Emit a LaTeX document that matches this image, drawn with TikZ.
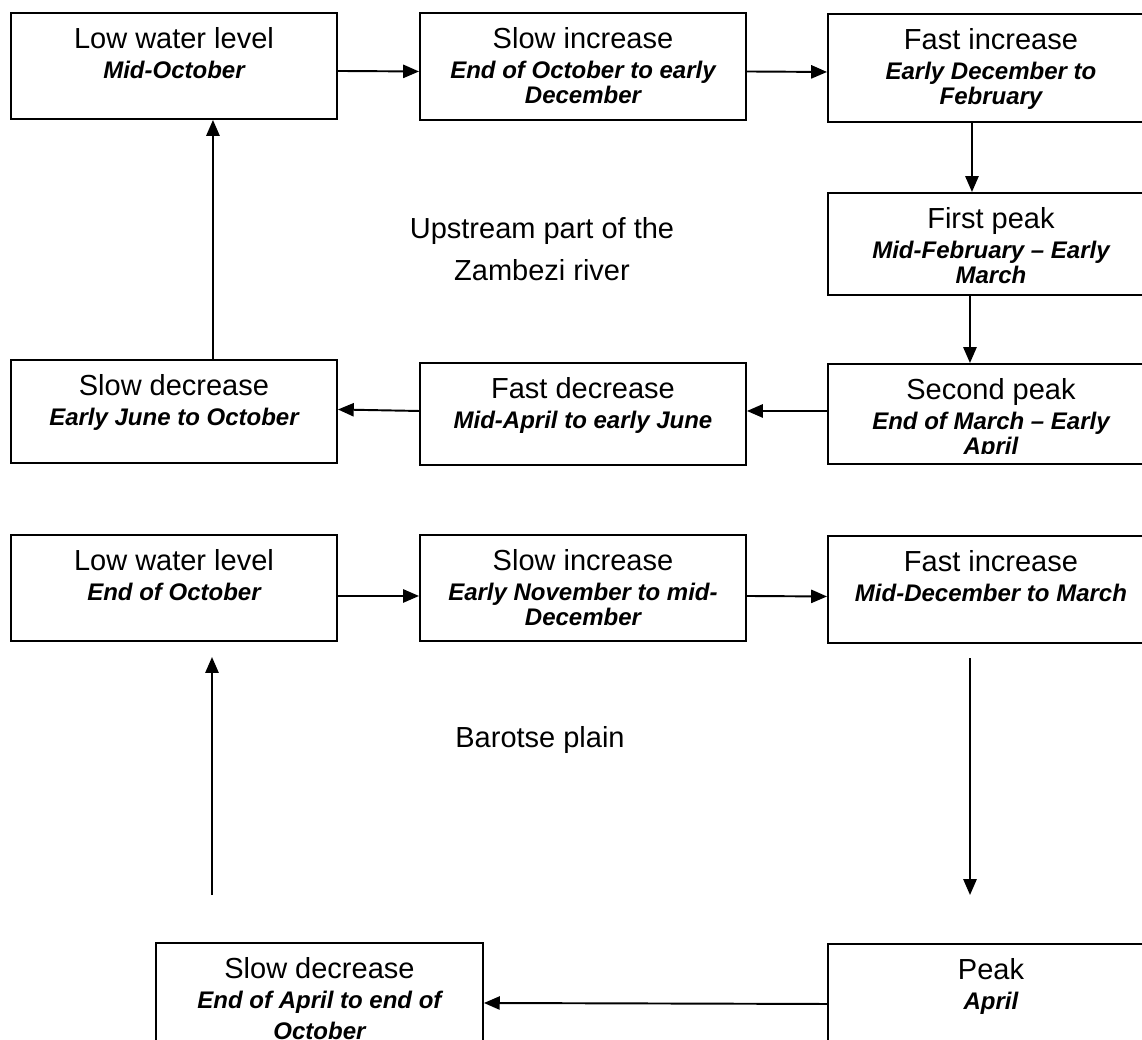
\documentclass[tikz,border=0pt]{standalone}
\usepackage{fontspec}
\setmainfont{Liberation Sans}
\usetikzlibrary{arrows.meta,calc}
\newcommand\ttlf{\fontsize{16.5pt}{19pt}\selectfont\mdseries\upshape}
\newcommand\itlf{\fontsize{13.66pt}{14.2pt}\selectfont\bfseries\itshape}
% name, x, y, width, height, text offset, text
\newcommand\flowbox[7]{%
  \node[box,minimum width={#4*0.02cm},minimum height={#5*0.02cm}] (#1) at (#2,#3) {};
  \begin{scope}
    \clip ($(#1.south west)+(0,-11)$) rectangle (#1.north east);
    \node[txt] (#1t) at ($(#1.north)+(0,#6)$) {#7};
  \end{scope}}
\begin{document}
\begin{tikzpicture}[x=0.02cm,y=-0.02cm,
  txt/.style={inner sep=0pt,align=center,font=\itlf,anchor=north},
  box/.style={draw,line width=1.1pt,anchor=north west,inner sep=0pt},
  arr/.style={line width=1.1pt,-{Triangle[length=9pt,width=7.5pt]}},
  lbl/.style={font=\ttlf,align=center,inner sep=0pt}]
\clip (0,0) rectangle (1142,1039);
\fill[white] (0,0) rectangle (1142,1039);
% upstream part
\flowbox{A}{10}{12}{326}{106}{15}{{\ttlf Low water level}\\[2.8pt]Mid-October}
\flowbox{B}{419}{12}{326}{107}{15}{{\ttlf Slow increase}\\[2.8pt]End of October to early\\December}
\flowbox{C}{827}{13}{326}{108}{15}{{\ttlf Fast increase}\\[2.8pt]Early December to\\February}
\flowbox{D}{827}{192}{326}{102}{15}{{\ttlf First peak}\\[2.8pt]Mid-February -- Early\\March}
\flowbox{E}{827}{363}{326}{100}{15}{{\ttlf Second peak}\\[2.8pt]End of March -- Early\\April}
\flowbox{F}{419}{362}{326}{102}{15}{{\ttlf Fast decrease}\\[2.8pt]Mid-April to early June}
\flowbox{G}{10}{359}{326}{103}{15}{{\ttlf Slow decrease}\\[2.8pt]Early June to October}
\node[lbl] (up) at (542,249) {Upstream part of the\\[5pt]Zambezi river};
\draw[arr] ($(A.east)+(0,5)$) -- ($(B.west)+(0,5)$);
\draw[arr] ($(B.east)+(0,5)$) -- ($(C.west)+(0,4)$);
\draw[arr] ($(C.south)+(-19,0)$) -- ($(D.north)+(-19,0)$);
\draw[arr] ($(D.south)+(-21,0)$) -- ($(E.north)+(-21,0)$);
\draw[arr] ($(E.west)+(0,-3)$) -- ($(F.east)+(0,-3)$);
\draw[arr] ($(F.west)+(0,-3)$) -- ($(G.east)+(0,-2)$);
\draw[arr] ($(G.north)+(39,0)$) -- ($(A.south)+(39,0)$);
% Barotse plain
\flowbox{H}{10}{534}{326}{106}{15}{{\ttlf Low water level}\\[2.8pt]End of October}
\flowbox{I}{419}{534}{326}{106}{15}{{\ttlf Slow increase}\\[2.8pt]Early November to mid-\\December}
\flowbox{J}{827}{535}{326}{107}{15}{{\ttlf Fast increase}\\[2.8pt]Mid-December to March}
\flowbox{K}{155}{942}{327}{120}{15}{{\ttlf Slow decrease}\\[2.8pt]End of April to end of\\[3.5pt]October}
\flowbox{L}{827}{943}{326}{120}{15}{{\ttlf Peak}\\[2.8pt]April}
\node[lbl] (bp) at (540,740) {Barotse plain};
\coordinate (jd1) at (970,658);
\coordinate (jd2) at (970,895);
\coordinate (hu1) at (212,895);
\coordinate (hu2) at (212,657);
\draw[arr] ($(H.east)+(0,8)$) -- ($(I.west)+(0,8)$);
\draw[arr] ($(I.east)+(0,8)$) -- ($(J.west)+(0,7)$);
\draw[arr] (jd1) -- (jd2);
\draw[arr] (hu1) -- (hu2);
\draw[arr] (L.west) -- (K.east);
\end{tikzpicture}
\end{document}
